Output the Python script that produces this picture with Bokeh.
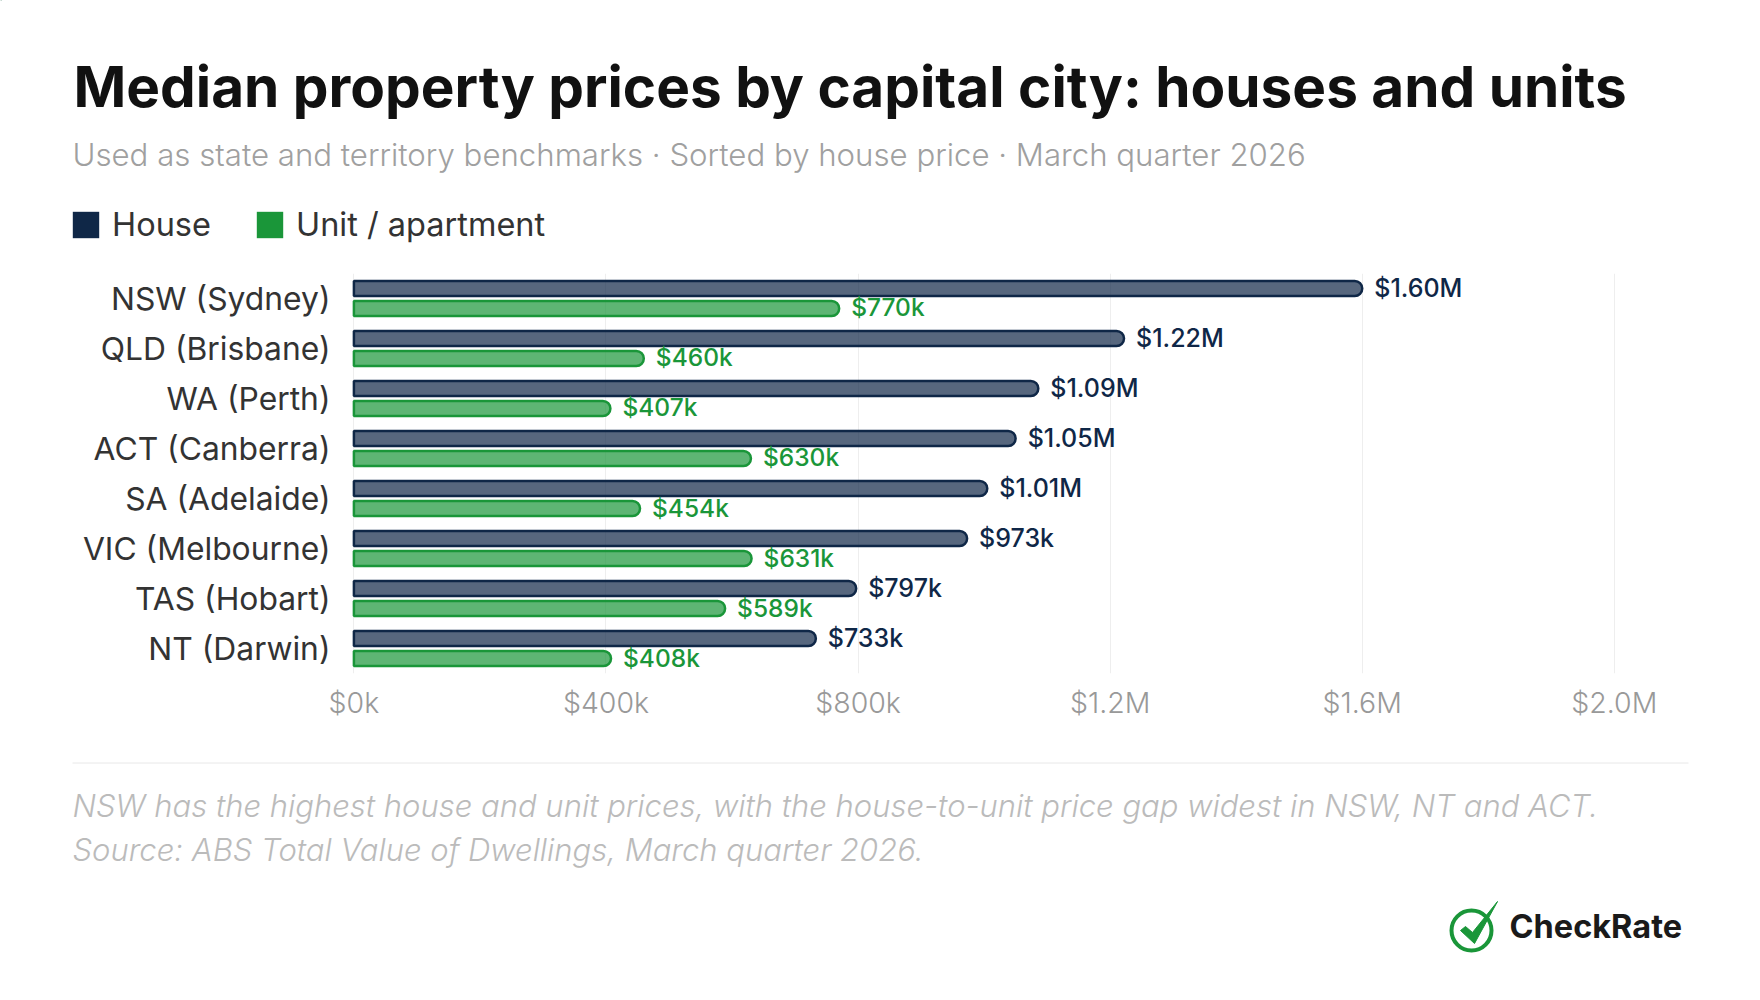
from bokeh.embed import file_html
from bokeh.resources import INLINE
from bokeh.plotting import figure
from bokeh.layouts import column
from bokeh.models import (FactorRange, Range1d, FixedTicker, Label, Legend, LegendItem, ColumnDataSource)
from bokeh.transform import dodge
from bokeh.core.properties import value

categories = ["NSW (Sydney)", "QLD (Brisbane)", "WA (Perth)", "ACT (Canberra)",
              "SA (Adelaide)", "VIC (Melbourne)", "TAS (Hobart)", "NT (Darwin)"]
house_values = [1600000, 1222000, 1086000, 1050000, 1005000, 973000, 797000, 733000]
unit_values = [770000, 460000, 407000, 630000, 454000, 631000, 589000, 408000]
house_labels = ["$1.60M", "$1.22M", "$1.09M", "$1.05M", "$1.01M", "$973k", "$797k", "$733k"]
unit_labels = ["$770k", "$460k", "$407k", "$630k", "$454k", "$631k", "$589k", "$408k"]
tick_values = [0, 400000, 800000, 1200000, 1600000, 2000000]
tick_labels = ["$0k", "$400k", "$800k", "$1.2M", "$1.6M", "$2.0M"]

NAVY = "#0F2747"
GREEN = "#1A9639"
LABEL_FONT = "Inter"
MEDIUM = "Inter Medium, Inter"
LIGHT = "Inter Light, Inter"

W = 1760
HEAD_H, MAIN_H = 273, 457
FOOT_H = 1000 - HEAD_H - MAIN_H
FL, FW, FH = 349, 1271, 400


def blank(height, y_top):
    f = figure(width=W, height=height, output_backend="svg", toolbar_location=None,
               x_range=Range1d(0, W), y_range=Range1d(y_top + height, y_top),
               x_axis_location=None, y_axis_location=None, frame_align=False,
               min_border=0, min_border_left=0, min_border_right=0, min_border_top=0, min_border_bottom=0)
    f.outline_line_color = None
    f.grid.visible = False
    return f


def text(f, s, x, y, size, color, font="Inter", style="normal"):
    f.add_layout(Label(x=x, y=y, text=s, text_font=font, text_font_size=size, text_color=color,
                       text_font_style=style, text_baseline="alphabetic", text_align="left"))


# header -------------------------------------------------------------------
head = blank(HEAD_H, 0)
text(head, "Median property prices by capital city: houses and units", 73, 86, "56.7px", "#111111", style="bold")
text(head, "Used as state and territory benchmarks · Sorted by house price · March quarter 2026", 72, 154, "31.2px", "#A0A0A0", font=LIGHT)
lh = head.hbar(y=[-1000], right=[1], left=[0], height=1, fill_color=NAVY, line_color=None)
lu = head.hbar(y=[-1000], right=[1], left=[0], height=1, fill_color=GREEN, line_color=None)
leg = Legend(items=[LegendItem(label="House", renderers=[lh]), LegendItem(label="Unit / apartment", renderers=[lu])],
             orientation="horizontal", location=(69, 29), padding=0, margin=0, spacing=42,
             glyph_width=33, glyph_height=33, label_standoff=10, border_line_color=None,
             background_fill_alpha=0, label_text_font=LABEL_FONT, label_text_font_size="32.5px",
             label_text_color="#333333", label_height=33)
head.add_layout(leg, "center")

# main chart ---------------------------------------------------------------
src = ColumnDataSource(dict(cat=categories, house=house_values, unit=unit_values,
                            hl=house_labels, ul=unit_labels))

p = figure(width=W, height=MAIN_H, output_backend="svg", toolbar_location=None,
           y_range=FactorRange(factors=categories[::-1], range_padding=0, factor_padding=0),
           x_range=Range1d(-7000, 2009800), frame_align=False,
           frame_width=FW, frame_height=FH,
           min_border_left=FL, min_border_right=W - FL - FW, min_border_top=0, min_border_bottom=MAIN_H - FH)
p.outline_line_color = None
p.xgrid.ticker = FixedTicker(ticks=tick_values)
p.xgrid.grid_line_color = "#EEEEEE"
p.xgrid.grid_line_width = 1
p.ygrid.grid_line_color = None

ax = p.xaxis[0]
ax.ticker = FixedTicker(ticks=tick_values)
ax.major_label_overrides = dict(zip(tick_values, tick_labels))
ax.axis_line_color = None
ax.major_tick_line_color = None
ax.minor_tick_line_color = None
ax.major_label_text_font = LIGHT
ax.major_label_text_font_size = "28.5px"
ax.major_label_text_color = "#999999"
ax.major_label_standoff = 5

ay = p.yaxis[0]
ay.axis_line_color = None
ay.major_tick_line_color = None
ay.minor_tick_line_color = None
ay.major_label_text_font = LABEL_FONT
ay.major_label_text_font_size = "31.8px"
ay.major_label_text_color = "#333333"
ay.major_label_standoff = 13

radius = dict(top_left=0, top_right=8, bottom_right=8, bottom_left=0)
p.hbar(y=dodge("cat", 0.2, range=p.y_range), right="house", left=0, height=0.3, source=src,
       fill_color=NAVY, fill_alpha=0.7, line_color=NAVY, line_width=2.5, border_radius=radius)
p.hbar(y=dodge("cat", -0.2, range=p.y_range), right="unit", left=0, height=0.3, source=src,
       fill_color=GREEN, fill_alpha=0.7, line_color=GREEN, line_width=2.5, border_radius=radius)

p.text(x="house", y=dodge("cat", 0.2, range=p.y_range), text="hl", source=src, x_offset=12, y_offset=-1,
       text_font=value(MEDIUM), text_font_size="25px", text_baseline="middle", text_color=NAVY)
p.text(x="unit", y=dodge("cat", -0.2, range=p.y_range), text="ul", source=src, x_offset=12, y_offset=-1,
       text_font=value(MEDIUM), text_font_size="24.5px", text_baseline="middle", text_color=GREEN)

# footer -------------------------------------------------------------------
foot = blank(FOOT_H, HEAD_H + MAIN_H)
foot.line(x=[72, 1688], y=[762.5, 762.5], line_color="#E8E8E8", line_width=1)
text(foot, "NSW has the highest house and unit prices, with the house-to-unit price gap widest in NSW, NT and ACT.", 72, 805, "31px", "#BBBBBB", font=LIGHT, style="italic")
text(foot, "Source: ABS Total Value of Dwellings, March quarter 2026.", 72, 849, "31px", "#BBBBBB", font=LIGHT, style="italic")
text(foot, "CheckRate", 1509, 926, "32.5px", "#1A1A1A", font="Inter", style="bold")
foot.scatter(x=[1471], y=[930], marker="circle", size=40, fill_alpha=0, line_color=GREEN, line_width=4)
foot.patch(x=[1460, 1465, 1472, 1497, 1474], y=[930, 926, 932, 901, 943], fill_color=GREEN, line_color=GREEN, line_width=1)

page = column(head, p, foot, spacing=0)
open("out.html", "w").write(file_html(page, INLINE))
